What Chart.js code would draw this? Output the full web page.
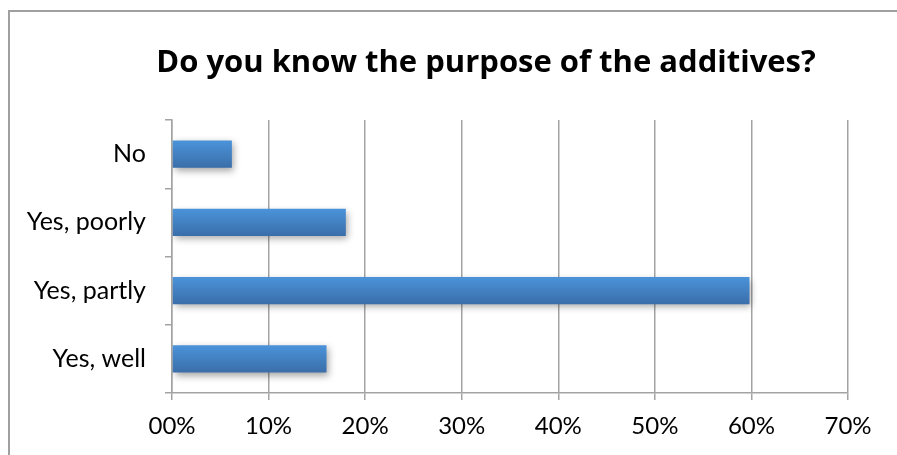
<!DOCTYPE html>
<html>
<head>
<meta charset="utf-8">
<script src="https://cdn.jsdelivr.net/npm/chart.js@4"></script>
<style>
  html, body { margin: 0; padding: 0; background: #fff; }
  #wrap { position: relative; width: 897px; height: 455px; overflow: hidden; }
  #frame { position: absolute; left: 8px; top: 10px; width: 1000px; height: 1000px; border: 2px solid #a0a0a0; box-sizing: border-box; }
  canvas { position: absolute; left: 0; top: 0; }
</style>
</head>
<body>
<div id="wrap">
  <div id="frame"></div>
  <canvas id="chart" width="897" height="455"></canvas>
</div>
<script>
const titleText = 'Do you know the purpose of the additives?';
const categories = ['No', 'Yes, poorly', 'Yes, partly', 'Yes, well'];
const shares = [6.2, 18.0, 59.8, 16.0];
const xTicks = [0, 10, 20, 30, 40, 50, 60, 70];

const fontFamily = 'Lato, "Open Sans", sans-serif';
const gridGray = '#a3a3a3';
const barShare = 0.4;

// vertical gradient per bar, computed from the category scale
function barFill(c) {
    const chart = c.chart;
    const y = chart.scales.y;
    if (!chart.chartArea || !y || c.dataIndex === undefined) return '#4382c8';
    const mid = y.getPixelForValue(c.dataIndex);
    const half = y.height / categories.length * barShare / 2;
    const g = chart.ctx.createLinearGradient(0, mid - half, 0, mid + half);
    g.addColorStop(0, '#4b93da');
    g.addColorStop(1, '#3a6ea9');
    return g;
}

// title and soft shadow under the bars
const decor = {
    id: 'decor',
    beforeDraw(chart) {
        const ctx = chart.ctx;
        ctx.save();
        ctx.fillStyle = '#000';
        ctx.font = 'bold 30px "Open Sans", sans-serif';
        const w = ctx.measureText(titleText).width;
        const size = Math.round(30 * 668 / w);
        ctx.font = 'bold ' + size + 'px "Open Sans", sans-serif';
        ctx.textAlign = 'center';
        ctx.textBaseline = 'alphabetic';
        ctx.fillText(titleText, 486, 72);
        ctx.restore();
    },
    beforeDatasetsDraw(chart) {
        const ctx = chart.ctx;
        ctx.save();
        ctx.shadowColor = 'rgba(0, 0, 0, 0.35)';
        ctx.shadowBlur = 7;
        ctx.shadowOffsetX = 2;
        ctx.shadowOffsetY = 3;
    },
    afterDatasetsDraw(chart) {
        chart.ctx.restore();
    }
};

new Chart(document.getElementById('chart'), {
    type: 'bar',
    data: {
        labels: categories,
        datasets: [{
            data: shares,
            backgroundColor: barFill,
            borderWidth: 0,
            barPercentage: barShare,
            categoryPercentage: 1
        }]
    },
    options: {
        indexAxis: 'y',
        responsive: false,
        animation: false,
        events: [],
        layout: { padding: { top: 120, right: 49, bottom: 0, left: 0 } },
        plugins: {
            legend: { display: false },
            tooltip: { enabled: false }
        },
        scales: {
            x: {
                min: 0,
                max: 70,
                afterBuildTicks: axis => { axis.ticks = xTicks.map(v => ({ value: v })); },
                afterFit: axis => { axis.height = 62; },
                grid: { color: gridGray, lineWidth: 1.5, tickLength: 7 },
                border: { color: gridGray, width: 1.5 },
                ticks: {
                    padding: 12,
                    color: '#000',
                    font: { family: fontFamily, size: 24 },
                    callback: v => (v === 0 ? '00' : v) + '%'
                }
            },
            y: {
                afterFit: axis => { axis.width = 172; },
                grid: { offset: true, drawOnChartArea: false, color: gridGray, lineWidth: 1.5, tickLength: 7 },
                border: { color: gridGray, width: 1.5 },
                ticks: {
                    padding: 19,
                    color: '#000',
                    font: { family: fontFamily, size: 25 }
                }
            }
        }
    },
    plugins: [decor]
});
</script>
</body>
</html>
